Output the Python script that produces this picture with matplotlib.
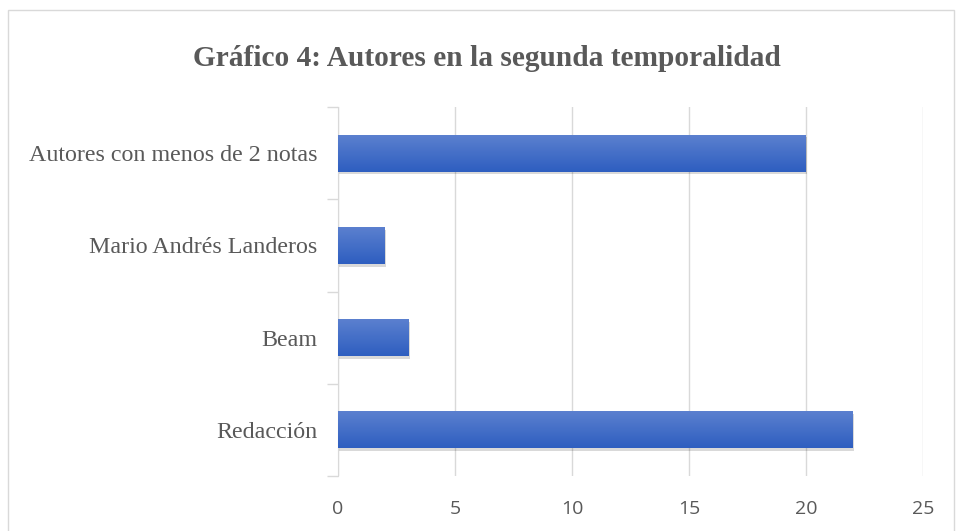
import numpy as np
import matplotlib
matplotlib.use("Agg")
import matplotlib.pyplot as plt
from matplotlib.patches import Rectangle

# datos
autores = ['Redacción', 'Beam', 'Mario Andrés Landeros', 'Autores con menos de 2 notas']
notas = [22, 3, 2, 20]
xticks = [0, 5, 10, 15, 20, 25]

fig = plt.figure(figsize=(9.56, 5.31), dpi=100)
ax = fig.add_axes([338/956, 1-476/531, (923-338)/956, (476-107)/531])

# marco exterior
fig.patches.append(Rectangle((8/956, -0.01), 946/956, 1-10/531+0.01, transform=fig.transFigure,
                             fill=False, edgecolor='#D9D9D9', lw=1.0))

y = np.arange(len(autores))
h = 0.4
grad = np.linspace(1, 0, 100).reshape(-1, 1)
cmap = matplotlib.colors.LinearSegmentedColormap.from_list('g', ['#5B80CF', '#2E5EC0'])
for yi, v in zip(y, notas):
    # sombra
    ax.add_patch(Rectangle((0.06, yi - h/2 - 0.03), v, h, color='#000000', alpha=0.15, lw=0, zorder=2))
    ax.imshow(grad, cmap=cmap, extent=(0, v, yi - h/2, yi + h/2), origin='lower',
              aspect='auto', zorder=3)

ax.set_xlim(0, 25)
ax.set_ylim(-0.5, len(autores) - 0.5)
ax.set_aspect('auto')
ax.set_xticks(xticks)
ax.set_xticklabels([str(t) for t in xticks], family='Open Sans', fontsize=14, color='#595959')
ax.set_yticks(y)
ax.set_yticklabels(autores, family='Liberation Serif', fontsize=17.3, color='#595959')
ax.set_yticks(np.arange(-0.5, len(autores)), minor=True)
ax.tick_params(axis='y', which='major', length=0, pad=15)
ax.tick_params(axis='y', which='minor', length=8, color='#D9D9D9', width=1)
ax.tick_params(axis='x', length=0, pad=17)
ax.grid(axis='x', color='#D9D9D9', lw=1, zorder=0)
ax.set_axisbelow(True)
for s in ['top', 'right', 'bottom']:
    ax.spines[s].set_visible(False)
ax.spines['left'].set_color('#D9D9D9')

fig.text(487/956, 1 - 58/531, 'Gráfico 4: Autores en la segunda temporalidad', ha='center', va='center',
         family='Liberation Serif', fontweight='bold', fontsize=21.2, color='#595959')

fig.savefig('out.png', dpi=100)
